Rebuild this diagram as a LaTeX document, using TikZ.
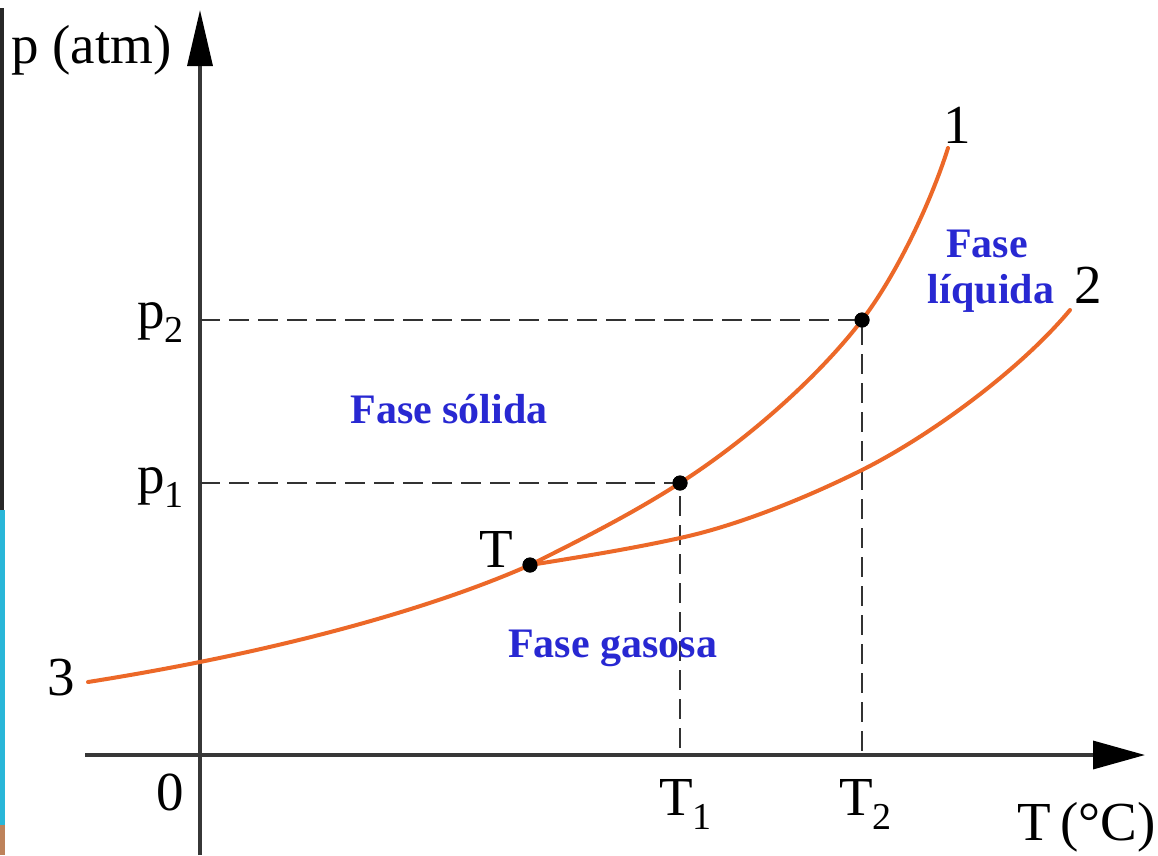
\documentclass[tikz,border=0pt]{standalone}
\usepackage{fontspec}
\setmainfont{Liberation Serif}
\usetikzlibrary{arrows.meta}
\definecolor{axisgray}{RGB}{55,55,55}
\definecolor{guidegray}{RGB}{50,50,50}
\definecolor{curveorange}{RGB}{236,104,40}
\definecolor{phaseblue}{RGB}{40,40,210}
\definecolor{stripdark}{RGB}{40,40,40}
\definecolor{stripcyan}{RGB}{41,182,216}
\definecolor{stripbrown}{RGB}{190,130,90}
\newcommand\lowsub[1]{\raisebox{-0.26em}{\fontsize{38}{40}\selectfont #1}}
\begin{document}
\begin{tikzpicture}[x=1pt,y=-1pt,
  axis/.style={draw=axisgray, line width=3.4pt},
  guide/.style={draw=guidegray, line width=2.8pt, dash pattern=on 20pt off 9pt},
  curve/.style={draw=curveorange, line width=4pt, line cap=round},
  dot/.style={circle, fill=black, inner sep=0pt, minimum size=15pt},
  lbl/.style={inner sep=0pt, font=\fontsize{55}{58}\selectfont},
  phase/.style={inner sep=0pt, text=phaseblue, font=\bfseries\fontsize{42}{44}\selectfont}]
\useasboundingbox (0,0) rectangle (1158,855);
\fill[white] (0,0) rectangle (1158,855);
% left edge strip
\fill[stripdark] (0,8) rectangle (4,510);
\fill[stripcyan] (0,510) rectangle (5,825);
\fill[stripbrown] (0,825) rectangle (5,855);

% coordinates
\coordinate (ybot) at (200,855);
\coordinate (ytop) at (200,10);
\coordinate (xl) at (85,755);
\coordinate (xr) at (1145,755);
\coordinate (p1y) at (200,483);
\coordinate (p2y) at (200,320);
\coordinate (t1x) at (680,755);
\coordinate (t2x) at (862,755);
\coordinate (e1) at (948,148);
\coordinate (e2) at (1070,310);
\coordinate (e3) at (88,682);
\coordinate (q1) at (680,538);
\coordinate (q2) at (862,470);

% axes
\draw[axis,-{Triangle[length=56pt,width=25pt,color=black]}] (ybot) -- (ytop);
\draw[axis,-{Triangle[length=52pt,width=28pt,color=black]}] (xl) -- (xr);

% point positions
\node[dot] (Tr) at (530,565) {};
\node[dot] (P1) at (680,483) {};
\node[dot] (P2) at (862,320) {};

% guides
\draw[guide] (p2y) -- (P2.center) -- (t2x);
\draw[guide] (p1y) -- (P1.center) -- (t1x);

% curves
\draw[curve] (e3) .. controls (290,650) and (440,605) .. (Tr.center);
\draw[curve] (Tr.center) .. controls (580,540) and (630,515) .. (P1.center)
  .. controls (750,438) and (820,375) .. (P2.center)
  .. controls (895,277) and (930,205) .. (e1);
\draw[curve] (Tr.center) .. controls (580,557) and (630,549) .. (q1)
  .. controls (740,525) and (810,496) .. (q2)
  .. controls (930,436) and (1020,370) .. (e2);

% dots on top
\node[dot] at (Tr) {};
\node[dot] at (P1) {};
\node[dot] at (P2) {};

% labels
\node[lbl, anchor=base west] (ylab) at (11,63) {p (atm)};
\node[lbl, anchor=base east] (xlab) at (1156,840) {T\,(°C)};
\node[lbl, anchor=base] (l1) at (957,143) {1};
\node[lbl, anchor=base] (l2) at (1088,303) {2};
\node[lbl, anchor=base] (l3) at (61,695) {3};
\node[lbl, anchor=base east] (lT) at (513,567) {T};
\node[lbl, anchor=base] (l0) at (170,810) {0};
\node[lbl, anchor=base west] (lp2) at (137,328) {p\lowsub{2}};
\node[lbl, anchor=base west] (lp1) at (137,493) {p\lowsub{1}};
\node[lbl, anchor=base west] (lt1) at (659,815) {T\lowsub{1}};
\node[lbl, anchor=base west] (lt2) at (839,815) {T\lowsub{2}};

\node[phase, anchor=base] (solid) at (449,423) {Fase sólida};
\node[phase, anchor=base west] (gas) at (508,657) {Fase gasosa};
\node[phase, anchor=base] (liq1) at (987,257) {Fase};
\node[phase, anchor=base] (liq2) at (991,303) {líquida};
\end{tikzpicture}
\end{document}
